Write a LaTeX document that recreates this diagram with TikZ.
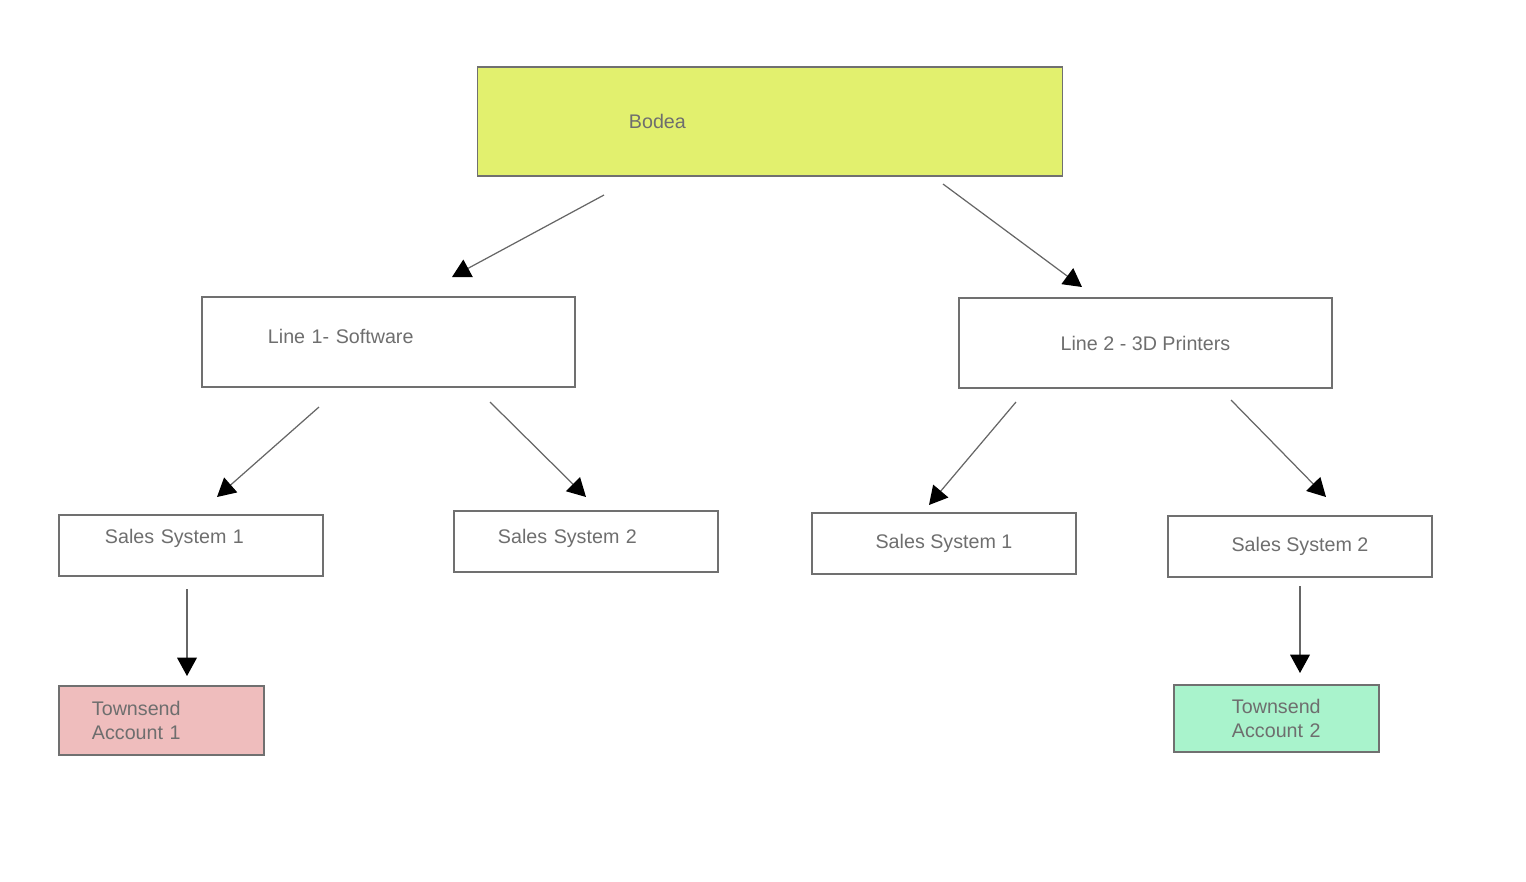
\documentclass[tikz,border=0pt]{standalone}
\usepackage{fontspec}
\setmainfont{Liberation Sans}
\usetikzlibrary{arrows.meta,positioning}

\definecolor{boxline}{HTML}{707070}
\definecolor{labelgray}{HTML}{6E6E6E}
\definecolor{linkgray}{HTML}{666666}
\definecolor{bodeafill}{HTML}{E2F06E}
\definecolor{acct1fill}{HTML}{EFBDBD}
\definecolor{acct2fill}{HTML}{A9F3CC}

\tikzset{
    box/.style={draw=boxline, line width=0.35pt, rectangle, text=labelgray,
        font=\fontsize{5.6}{6.8}\selectfont},
    leftbox/.style={box, align=left, text height=0.15cm},
    link/.style={draw=linkgray, line width=0.35pt,
        -{Triangle[length=5.2pt, width=5.6pt, color=black]}}
}

\begin{document}
\begin{tikzpicture}[x=0.01cm, y=-0.01cm]
    \useasboundingbox (0,0) rectangle (1526,881);

    % Top level
    \node[box, fill=bodeafill, minimum width=5.84cm, minimum height=1.09cm,
        inner xsep=1.51cm, text width=2.82cm, align=left] (bodea) at (770,121.5) {Bodea};

    % Product lines
    \node[leftbox, minimum width=3.73cm, minimum height=0.90cm, inner xsep=0.66cm,
        text width=2.41cm, text depth=0.13cm] (line1) at (388.5,342) {Line 1- Software};
    \node[box, minimum width=3.73cm, minimum height=0.90cm] (line2) at (1145.5,343) {Line 2 - 3D Printers};

    % Sales systems
    \node[leftbox, minimum width=2.64cm, minimum height=0.61cm, inner xsep=0.46cm,
        text width=1.72cm, text depth=0.2cm] (sales11) at (191,545.5) {Sales System 1};
    \node[leftbox, minimum width=2.64cm, minimum height=0.61cm, inner xsep=0.44cm,
        text width=1.76cm, text depth=0.12cm] (sales12) at (586,541.5) {Sales System 2};
    \node[box, minimum width=2.64cm, minimum height=0.61cm] (sales21) at (944,543.5) {Sales System 1};
    \node[box, minimum width=2.64cm, minimum height=0.61cm] (sales22) at (1300,546.5) {Sales System 2};

    % Accounts
    \node[box, fill=acct1fill, align=left, minimum width=2.05cm, minimum height=0.69cm,
        inner xsep=0.33cm, text width=1.39cm] (acct1) at (161.5,720.5) {Townsend\\Account 1};
    \node[box, fill=acct2fill, align=left, minimum width=2.05cm, minimum height=0.67cm,
        inner xsep=0.58cm, text width=0.89cm] (acct2) at (1276.5,718.5) {Townsend\\Account 2};

    % Arrow ends (the arrows float between the boxes)
    \coordinate (bodea-l) at (604,195);   \coordinate (line1-in) at (452,277);
    \coordinate (bodea-r) at (943,184);   \coordinate (line2-in) at (1082,287);
    \coordinate (line1-l) at (319,407);   \coordinate (sales11-in) at (217,497);
    \coordinate (line1-r) at (490,402);   \coordinate (sales12-in) at (586,497);
    \coordinate (line2-l) at (1016,402);  \coordinate (sales21-in) at (929,505);
    \coordinate (line2-r) at (1231,400);  \coordinate (sales22-in) at (1326,497);
    \coordinate (sales11-out) at (187,589); \coordinate (acct1-in) at (187,676);
    \coordinate (sales22-out) at (1300,586); \coordinate (acct2-in) at (1300,673);

    % Arrows
    \foreach \from/\to in {bodea-l/line1-in, bodea-r/line2-in, line1-l/sales11-in,
        line1-r/sales12-in, line2-l/sales21-in, line2-r/sales22-in,
        sales11-out/acct1-in, sales22-out/acct2-in} {
        \draw[link] (\from) -- (\to);
    }
\end{tikzpicture}
\end{document}
